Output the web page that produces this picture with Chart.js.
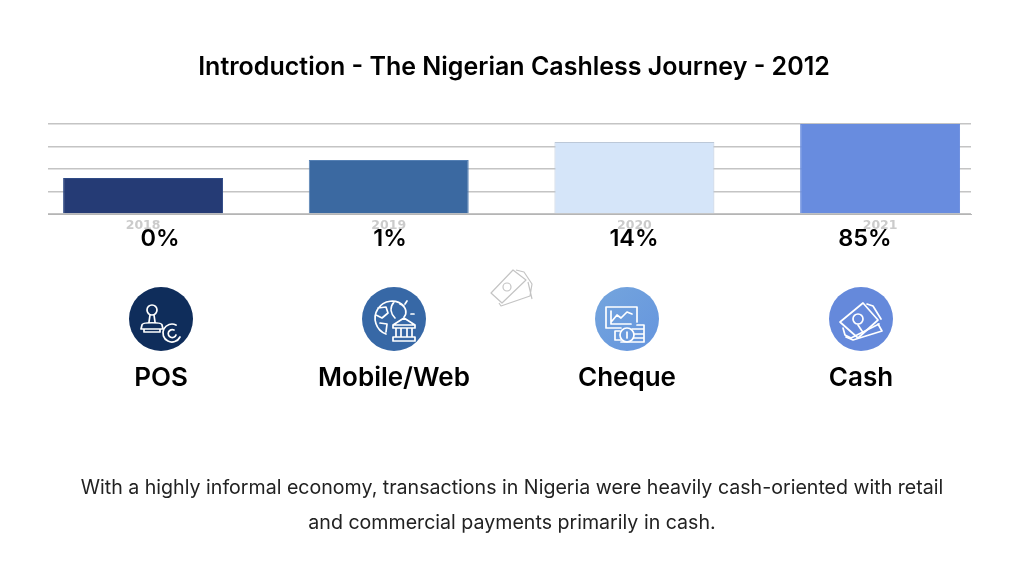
<!DOCTYPE html>
<html>
<head>
<meta charset="utf-8">
<title>The Nigerian Cashless Journey</title>
<script src="https://cdn.jsdelivr.net/npm/chart.js@4"></script>
<style>
    html, body { margin: 0; padding: 0; background: #fff; }
    #page { position: relative; width: 1024px; height: 576px; overflow: hidden; font-family: Inter, sans-serif; color: #000; }
    #grafico { position: absolute; left: 0; top: 0; }
    .txt { position: absolute; white-space: nowrap; transform: translate(-50%, -50%); }
    .title { font-weight: 600; font-size: 25px; }
    .pct { font-size: 23.5px; font-weight: 600; }
    .nome { font-weight: 600; font-size: 26px; }
    .desc { font-size: 19.6px; color: #222; }
    svg.icon { position: absolute; width: 64px; height: 64px; top: 287px; }
    svg.icon .l { fill: none; stroke: #fff; stroke-width: 1.7; stroke-linejoin: round; stroke-linecap: round; }
</style>
</head>
<body>
<div id="page">
    <canvas id="grafico" width="1024" height="576"></canvas>
    <div class="txt title" style="left:514px;top:66px">Introduction - The Nigerian Cashless Journey - 2012</div>
    <div id="rotulos"></div>
    <div class="txt desc" style="left:512px;top:487px">With a highly informal economy, transactions in Nigeria were heavily cash-oriented with retail</div>
    <div class="txt desc" style="left:512px;top:522px">and commercial payments primarily in cash.</div>

    <svg class="icon" style="left:129px" viewBox="0 0 64 64">
        <circle cx="32" cy="32" r="32" fill="#0f2d5b"/>
        <g class="l">
            <circle cx="23" cy="23" r="5"/>
            <path d="M21 28 L20 35 M25 28 L26 35 M13 38 C13 35 33 35 33 38 L34 42 H12 Z M15 42 V45 H31 V42"/>
            <path d="M47 38 A9 9 0 1 0 51 50 M45 43 A4 4 0 1 0 47 48"/>
        </g>
    </svg>
    <svg class="icon" style="left:362px" viewBox="0 0 64 64">
        <circle cx="32" cy="32" r="32" fill="#3768a6"/>
        <g class="l">
            <path d="M42 19 A17 17 0 1 0 24 47 M16 21 L24 20 L26 26 L20 31 L14 28 M18 36 L25 37 L24 45 M32 15 C27 21 29 27 33 31 M38 17 C45 20 45 27 42 30"/>
            <path d="M31 38 L42 31 L53 38 Z M31 38 V41 H53 V38 M34 41 V50 M39 41 V50 M45 41 V50 M50 41 V50 M31 50 H53 V54 H31 Z"/>
            <path d="M43 17 L45 14 M49 27 H52"/>
        </g>
    </svg>
    <svg class="icon" style="left:595px" viewBox="0 0 64 64">
        <defs><linearGradient id="g3" x1="0" y1="0" x2="1" y2="1"><stop offset="0" stop-color="#74a5dd"/><stop offset="1" stop-color="#6595de"/></linearGradient></defs>
        <circle cx="32" cy="32" r="32" fill="url(#g3)"/>
        <g class="l">
            <path d="M26 41 H11 V20 H42 V35 M16 24 V37 H36 M17 34 L22 28 L26 31 L32 25 L37 27"/>
            <circle cx="32" cy="48" r="7"/>
            <path d="M25 44 H20 V53 H26 M37 42 H49 V55 H26 M39 47 H49 M39 51 H49 M42 38 H49 V42"/>
            <path d="M32 45 V51"/>
        </g>
    </svg>
    <svg class="icon" style="left:829px" viewBox="0 0 64 64">
        <circle cx="32" cy="32" r="32" fill="#6589db"/>
        <g class="l">
            <path d="M11 35 L34 16 L49 33 L29 51 Z"/>
            <circle cx="29" cy="32" r="5"/>
            <path d="M38 17 L44 19 L52 32 M14 41 L16 48 L22 51 L50 37 M49 37 L53 44 L24 53 L17 50 M29 38 L33 44"/>
        </g>
    </svg>
    <svg style="position:absolute;left:488px;top:266px;width:48px;height:42px" viewBox="0 0 48 42">
        <g fill="none" stroke="#c4c4c4" stroke-width="1.2" stroke-linejoin="round">
            <path d="M3 27 L25 4 L38 14 L14 37 Z"/>
            <circle cx="19" cy="21" r="4"/>
            <path d="M28 4 L36 6 L44 18 L42 30 L13 40 L11 37 M40 16 L44 33"/>
        </g>
    </svg>
</div>

<script>
const categorias = ['2018', '2019', '2020', '2021'];
const valores = [40, 60, 80, 100];
const coresBarras = ['#253b75', '#3b69a1', '#d5e5f9', '#688cdf'];
const bordasBarras = ['#2f4a85', '#5580b4', '#bcc8d8', '#688cdf'];
const percentuais = ['0%', '1%', '14%', '85%'];
const nomes = ['POS', 'Mobile/Web', 'Cheque', 'Cash'];

// centro horizontal dos textos na pagina
const xPercentuais = [160, 390, 634, 865];
const xNomes = [161, 394, 627, 861];

function desenharRotulos() {
    let html = '';
    percentuais.forEach((p, i) => {
        html += `<div class="txt pct" style="left:${xPercentuais[i]}px;top:237px">${p}</div>`;
    });
    nomes.forEach((n, i) => {
        html += `<div class="txt nome" style="left:${xNomes[i]}px;top:376px">${n}</div>`;
    });
    document.getElementById('rotulos').innerHTML = html;
}

function gerarGrafico() {
    const ctx = document.getElementById('grafico').getContext('2d');
    new Chart(ctx, {
        type: 'bar',
        data: {
            datasets: [{
                data: valores.map((v, i) => ({ x: i, y: v })),
                backgroundColor: coresBarras,
                borderColor: bordasBarras,
                borderWidth: 1,
                barPercentage: 0.651,
                categoryPercentage: 1
            }]
        },
        options: {
            responsive: false,
            animation: false,
            layout: { padding: { left: 48, right: 53, top: 124, bottom: 342 } },
            plugins: { legend: { display: false }, tooltip: { enabled: false } },
            scales: {
                // eixo linear porque as barras nao ocupam a largura toda das linhas de grade
                x: {
                    type: 'linear',
                    offset: false,
                    min: -0.387,
                    max: 3.37,
                    grid: { display: false },
                    border: { color: '#b5b5b5', width: 1 },
                    afterBuildTicks: (scale) => {
                        scale.ticks = categorias.map((c, i) => ({ value: i }));
                    },
                    ticks: {
                        color: '#cbcbcb',
                        padding: -4,
                        autoSkip: false,
                        maxRotation: 0,
                        callback: (v) => categorias[v],
                        font: { family: 'DejaVu Sans', size: 12.5, weight: 'bold' }
                    },
                    afterFit: (scale) => { scale.height = 20; }
                },
                y: {
                    min: 0,
                    max: 100,
                    ticks: { display: false, stepSize: 25 },
                    grid: { color: '#c4c4c4', lineWidth: 1.4, drawTicks: false },
                    border: { display: false }
                }
            }
        }
    });
}

desenharRotulos();
gerarGrafico();
</script>
</body>
</html>
